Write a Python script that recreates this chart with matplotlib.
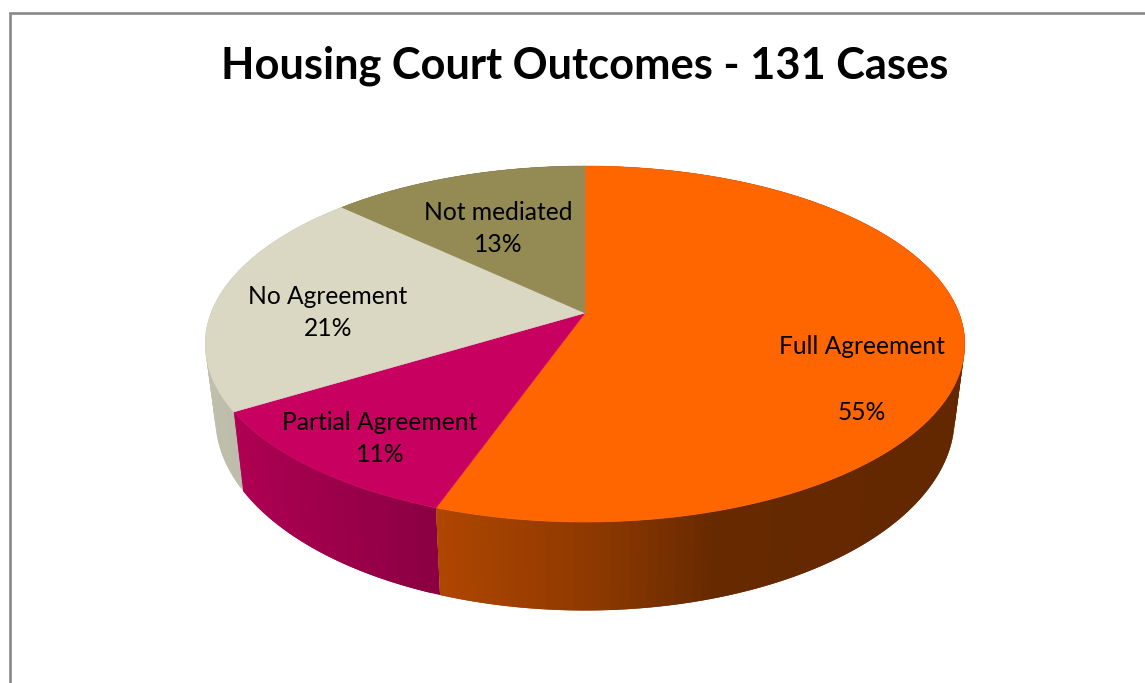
import numpy as np
import matplotlib
matplotlib.use("Agg")
import matplotlib.pyplot as plt

title = "Housing Court Outcomes - 131 Cases"
categories = ["Full Agreement", "Partial Agreement", "No Agreement", "Not mediated"]
shares = [55, 11, 21, 13]
top_colors = ["#FF6600", "#C80060", "#DAD8C3", "#948A54"]

# layout, in pixels of the 1145x683 canvas
name_xy = [(862, 347), (380, 423), (328, 297), (498, 213)]
pct_xy = [(862, 413), (380, 455), (328, 328), (498, 244)]
CX, TOP_Y, BOT_Y = 585.0, 313.0, 384.0
TOP_A, TOP_B, BOT_A, BOT_B, K = 374.0, 172.6, 364.0, 187.0, 0.1743
WARP = 0.026
shade_x = [215, 240, 435, 600, 720, 965]
shade_f = [0.88, 0.87, 0.69, 0.55, 0.40, 0.39]


def project(theta, a, b, y0):
    d = 1 + K * np.sin(theta)
    return CX + a * np.cos(theta) / d, y0 - b * np.sin(theta) / d


def angle(fraction):
    # clockwise from 12 o'clock, with the slight foreshortening of the 3D view
    th = np.pi / 2 - 2 * np.pi * np.asarray(fraction)
    return th - WARP * ((1 - np.sin(th)) / 2) ** 1.5


fig = plt.figure(figsize=(11.45, 6.83), dpi=100, facecolor="white")
ax = fig.add_axes([0, 0, 1, 1])
ax.set_xlim(0, 1145)
ax.set_ylim(683, 0)
ax.axis("off")

# chart frame (runs off the right and bottom of the crop)
ax.plot([9.5, 9.5, 1146], [684, 13, 13], color="#888888", lw=1.9,
        solid_joinstyle="miter", zorder=1)

fractions = np.cumsum([0] + shares) / sum(shares)

# side wall: each quad overlaps the next, so no seams show between them
for i in [2, 3, 1, 0]:
    n = max(4, int(shares[i] * 3))
    edges = np.linspace(fractions[i], fractions[i + 1], n + 1)
    for j in range(n):
        t = np.linspace(angle(edges[j]), angle(edges[min(j + 2, n)]), 5)
        xt, yt = project(t, TOP_A, TOP_B, TOP_Y)
        xb, yb = project(t, BOT_A, BOT_B, BOT_Y)
        mid = angle((edges[j] + edges[j + 1]) / 2)
        xm = (project(mid, TOP_A, TOP_B, TOP_Y)[0] + project(mid, BOT_A, BOT_B, BOT_Y)[0]) / 2
        c = np.array(matplotlib.colors.to_rgb(top_colors[i])) * np.interp(xm, shade_x, shade_f)
        ax.fill(np.r_[xt, xb[::-1]], np.r_[yt, yb[::-1]], facecolor=c,
                edgecolor="none", lw=0, zorder=2)

# top face
for i, share in enumerate(shares):
    t = angle(np.linspace(fractions[i], fractions[i + 1], 200))
    x, y = project(t, TOP_A, TOP_B, TOP_Y)
    ax.fill(np.r_[CX, x], np.r_[TOP_Y, y], facecolor=top_colors[i],
            edgecolor=top_colors[i], lw=0.4, zorder=3)

font = "Lato"
for cat, share, nxy, pxy in zip(categories, shares, name_xy, pct_xy):
    ax.text(*nxy, cat, ha="center", va="center", fontsize=17.7, family=font,
            color="black", zorder=4)
    ax.text(*pxy, f"{share}%", ha="center", va="center", fontsize=17.7,
            family=font, color="black", zorder=4)

ax.text(585, 66, title, ha="center", va="center", fontsize=31.2, family=font,
        fontweight="bold", color="black", zorder=4)

fig.savefig("out.png", dpi=100, facecolor="white")
